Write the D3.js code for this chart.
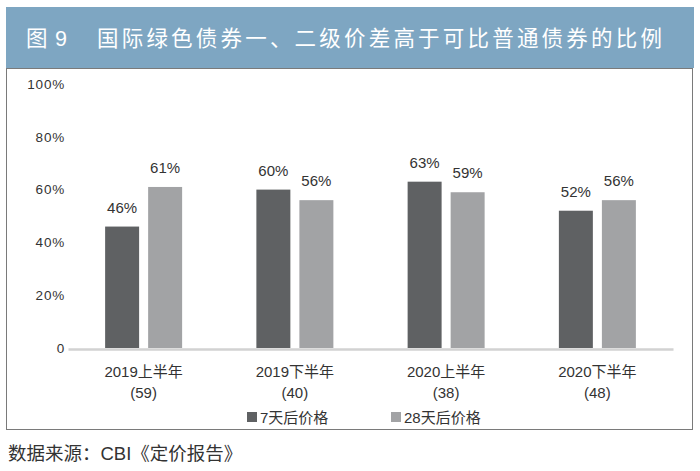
<!DOCTYPE html>
<html>
<head>
<meta charset="utf-8">
<script src="https://cdn.jsdelivr.net/npm/d3@7"></script>
<style>
    body { margin: 0; background: #fff; }
    svg { display: block; font-family: "Liberation Sans", "Noto Sans CJK SC", sans-serif; }
</style>
</head>
<body>
<div id="chart"></div>
<script>
// Chart data
const categories = ["2019上半年", "2019下半年", "2020上半年", "2020下半年"];
const sampleCounts = ["(59)", "(40)", "(38)", "(48)"];
const seriesNames = ["7天后价格", "28天后价格"];
const price7d = [46, 60, 63, 52];
const price28d = [61, 56, 59, 56];
const yTicks = [0, 20, 40, 60, 80, 100];

const COLORS = {
    band: "#7ea6c2",
    dark: "#5f6163",
    light: "#a2a3a5",
    axis: "#d2d2d2",
    text: "#333333",
    border: "#7a7a7a"
};

const width = 700, height = 471;
const plot = { left: 68, right: 673, top: 84, bottom: 348 };

const svg = d3.select("#chart").append("svg")
    .attr("width", width)
    .attr("height", height);

// Title band
svg.append("rect")
    .attr("x", 6).attr("y", 7)
    .attr("width", 688).attr("height", 61)
    .attr("fill", COLORS.band);

const titleG = svg.append("g")
    .attr("fill", "#fff")
    .style("font-size", "21.5px")
    .attr("dominant-baseline", "central");
titleG.append("text").attr("x", 26).attr("y", 39).text("图");
titleG.append("text").attr("x", 55).attr("y", 39).text("9");
titleG.append("text").attr("x", 97).attr("y", 39)
    .style("letter-spacing", "3.2px")
    .text("国际绿色债券一、二级价差高于可比普通债券的比例");

// Chart frame
svg.append("rect")
    .attr("x", 6.5).attr("y", 68.5)
    .attr("width", 686).attr("height", 361)
    .attr("fill", "none")
    .attr("stroke", COLORS.border)
    .attr("stroke-width", 1);

// Scales
const x = d3.scaleBand()
    .domain(categories)
    .range([plot.left, plot.right]);

const x1 = d3.scaleBand()
    .domain(seriesNames)
    .range([x.bandwidth() / 2 - 38.5, x.bandwidth() / 2 + 38.5])
    .paddingInner(0.21);

const y = d3.scaleLinear()
    .domain([0, 100])
    .range([plot.bottom, plot.top]);

// Y axis (labels only)
svg.append("g")
    .attr("transform", `translate(${plot.left},0)`)
    .call(d3.axisLeft(y)
        .tickValues(yTicks)
        .tickSize(0)
        .tickPadding(3)
        .tickFormat(d => d === 0 ? "0" : d + "%"))
    .call(g => g.select(".domain").remove())
    .selectAll("text")
    .attr("fill", COLORS.text)
    .style("font-size", "13.5px")
    .style("letter-spacing", "0.8px")
    .style("font-family", "\"Liberation Sans\", sans-serif");

// Bars
const rows = categories.map((c, i) => ({
    category: c,
    values: [
        { series: seriesNames[0], value: price7d[i], color: COLORS.dark },
        { series: seriesNames[1], value: price28d[i], color: COLORS.light }
    ]
}));

const groups = svg.append("g")
    .selectAll("g")
    .data(rows)
    .join("g")
    .attr("transform", d => `translate(${x(d.category)},0)`);

groups.selectAll("rect")
    .data(d => d.values)
    .join("rect")
    .attr("x", d => x1(d.series))
    .attr("y", d => y(d.value))
    .attr("width", x1.bandwidth())
    .attr("height", d => y(0) - y(d.value))
    .attr("fill", d => d.color);

groups.selectAll("text")
    .data(d => d.values)
    .join("text")
    .attr("x", d => x1(d.series) + x1.bandwidth() / 2)
    .attr("y", d => y(d.value) - 14)
    .attr("text-anchor", "middle")
    .attr("fill", COLORS.text)
    .style("font-size", "15px")
    .text(d => d.value + "%");

// X axis with two-line labels
svg.append("g")
    .attr("transform", `translate(0,${plot.bottom + 1})`)
    .call(d3.axisBottom(x).tickSize(0).tickSizeOuter(0).tickPadding(0))
    .call(g => g.select(".domain")
        .attr("stroke", COLORS.axis)
        .attr("stroke-width", 2.5))
    .call(g => g.selectAll(".tick text")
        .text(null)
        .attr("dy", null)
        .attr("y", null)
        .attr("fill", COLORS.text)
        .style("font-size", "15px")
        .style("font-family", "\"Liberation Sans\", \"Noto Sans CJK SC\", sans-serif")
        .each(function(d, i) {
            const t = d3.select(this);
            t.append("tspan").attr("x", 0).attr("y", 28).text(d);
            t.append("tspan").attr("x", 0).attr("y", 49).text(sampleCounts[i]);
        }));

// Legend
const legendX = [247, 391];
const legend = svg.append("g")
    .selectAll("g")
    .data(seriesNames)
    .join("g")
    .attr("transform", (d, i) => `translate(${legendX[i]},417)`);

legend.append("rect")
    .attr("x", 0).attr("y", -5)
    .attr("width", 10).attr("height", 10)
    .attr("fill", (d, i) => i === 0 ? COLORS.dark : COLORS.light);

legend.append("text")
    .attr("x", 13)
    .attr("dominant-baseline", "central")
    .attr("fill", COLORS.text)
    .style("font-size", "15px")
    .text(d => d);

// Source note
svg.append("text")
    .attr("x", 8).attr("y", 453)
    .attr("dominant-baseline", "central")
    .attr("fill", COLORS.text)
    .style("font-size", "18.5px")
    .text("数据来源：CBI《定价报告》");
</script>
</body>
</html>
